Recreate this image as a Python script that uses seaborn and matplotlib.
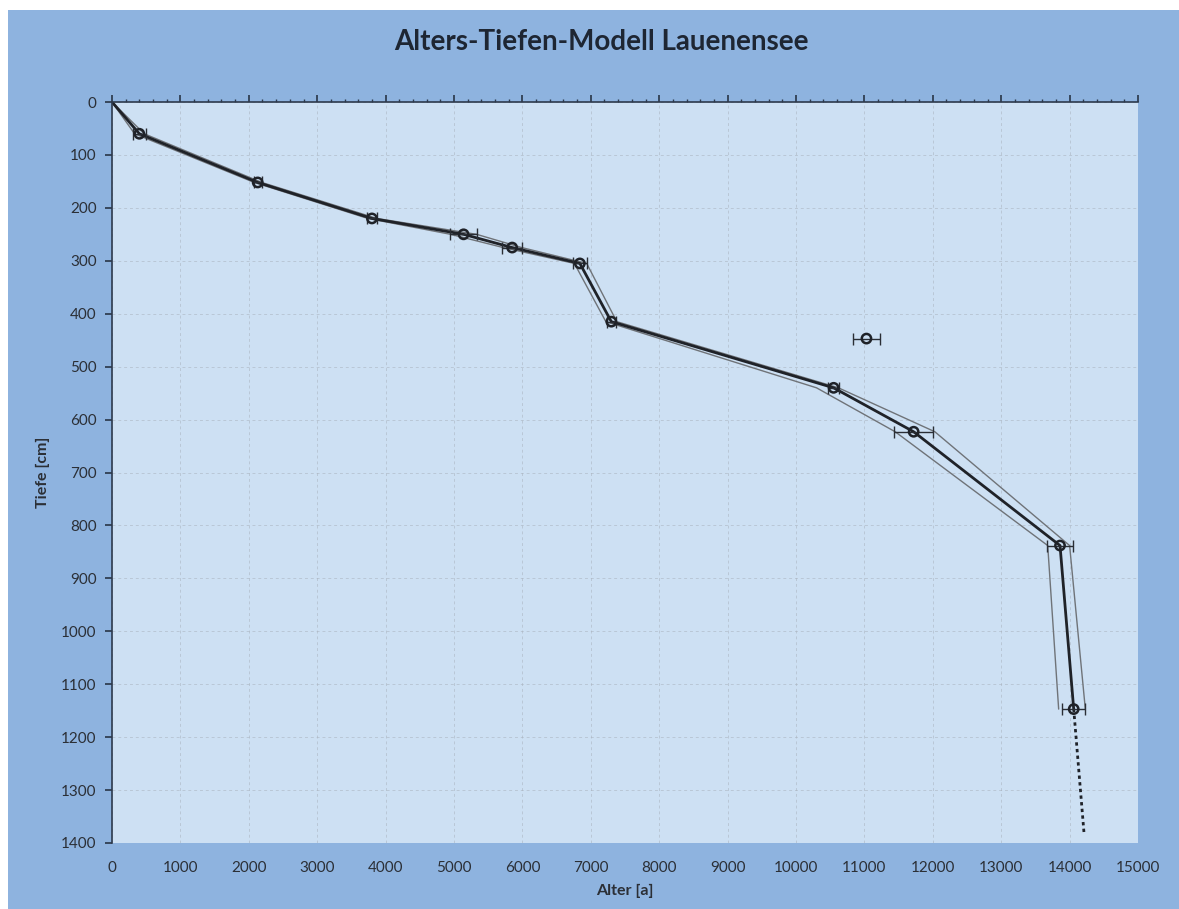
import matplotlib
matplotlib.use("Agg")
import matplotlib.pyplot as plt
import seaborn as sns
import pandas as pd
from matplotlib.patches import Rectangle

# ---- data ----
depth = [0, 60, 152, 220, 250, 275, 305, 415, 540, 623, 838, 1147]
age = [0, 400, 2130, 3800, 5140, 5850, 6840, 7300, 10550, 11720, 13860, 14060]
age_err = [0, 100, 60, 70, 200, 150, 100, 70, 80, 290, 190, 170]
age_min = [0, 330, 2080, 3740, 4950, 5720, 6760, 7220, 10300, 11450, 13680, 13840]
age_max = [0, 470, 2190, 3870, 5330, 5990, 6940, 7380, 10620, 12030, 14000, 14230]
outlier_age = [11030]
outlier_depth = [447]
outlier_err = [200]
extra_age = [14060, 14210]
extra_depth = [1147, 1380]

x_ticks = list(range(0, 15001, 1000))
y_ticks = list(range(0, 1401, 100))

sns.set_theme(style="white")
plt.rcParams['font.family'] = ['Lato', 'DejaVu Sans']

fig = plt.figure(figsize=(11.79, 9.09), dpi=100)
fig.patch.set_facecolor("white")
fig.patches.append(Rectangle((8 / 1179, 0), 1 - 8 / 1179, 1 - 10 / 909,
                             transform=fig.transFigure, facecolor="#8eb3df",
                             edgecolor="none", zorder=-10))
ax = fig.add_axes([112 / 1179, 1 - 843 / 909, (1138 - 112) / 1179, (843 - 102) / 909])
ax.set_facecolor("#cde0f3")

df_main = pd.DataFrame({"age": age, "depth": depth})
df_min = pd.DataFrame({"age": age_min, "depth": depth})
df_max = pd.DataFrame({"age": age_max, "depth": depth})
df_ext = pd.DataFrame({"age": extra_age, "depth": extra_depth})

sns.lineplot(data=df_min, x="age", y="depth", sort=False, estimator=None,
             color="#6f7378", lw=1.0, ax=ax)
sns.lineplot(data=df_max, x="age", y="depth", sort=False, estimator=None,
             color="#6f7378", lw=1.0, ax=ax)
sns.lineplot(data=df_main, x="age", y="depth", sort=False, estimator=None,
             color="#1f2228", lw=2.0, ax=ax)
sns.lineplot(data=df_ext, x="age", y="depth", sort=False, estimator=None,
             color="#1f2228", lw=2.0, ax=ax, linestyle=(0, (1.2, 1.2)))

ax.errorbar(age[1:], depth[1:], xerr=age_err[1:], fmt="none", ecolor="#2a2e35",
            elinewidth=1.0, capsize=4, capthick=1.0, zorder=4)
ax.errorbar(outlier_age, outlier_depth, xerr=outlier_err, fmt="none", ecolor="#2a2e35",
            elinewidth=1.0, capsize=4, capthick=1.0, zorder=4)
sns.scatterplot(x=age[1:] + outlier_age, y=depth[1:] + outlier_depth, ax=ax,
                marker="o", s=45, facecolor="none", edgecolor="#1f2228",
                linewidth=1.8, zorder=5)

ax.set_xlim(0, 15000)
ax.set_ylim(1400, 0)
ax.set_xticks(x_ticks)
ax.set_yticks(y_ticks)
ax.set_xticklabels([str(t) for t in x_ticks])
ax.set_yticklabels([str(t) for t in y_ticks])
ax.grid(True, color="#a9b2bd", lw=0.7, ls=(0, (3, 3)), alpha=0.55)

for s in ["right", "bottom"]:
    ax.spines[s].set_visible(False)
ax.spines["top"].set_color("#2d3a4d")
ax.spines["left"].set_color("#2d3a4d")
ax.spines["top"].set_linewidth(1.2)
ax.spines["left"].set_linewidth(1.2)

ax.xaxis.set_ticks_position("top")
ax.xaxis.set_label_position("bottom")
ax.tick_params(axis="x", which="major", direction="out", length=5, color="#2d3a4d",
               labeltop=False, labelbottom=True, labelsize=11, labelcolor="#2b2f36", pad=8)
ax.set_xticks(list(range(200, 15000, 200)), minor=True)
ax.tick_params(axis="x", which="minor", direction="out", length=2.5, color="#2d3a4d", top=True)
ax.tick_params(axis="y", which="major", direction="out", length=5, color="#2d3a4d",
               left=True, labelsize=11, labelcolor="#2b2f36", pad=6)

ax.set_xlabel("Alter [a]", fontsize=11.5, fontweight="bold", color="#2b2f36", labelpad=6)
ax.set_ylabel("Tiefe [cm]", fontsize=11.5, fontweight="bold", color="#2b2f36", labelpad=8)

fig.suptitle("Alters-Tiefen-Modell Lauenensee", x=0.51, y=0.968, fontsize=20,
             fontweight="bold", color="#1e2633")

fig.savefig("out.png", dpi=100, facecolor=fig.get_facecolor())
